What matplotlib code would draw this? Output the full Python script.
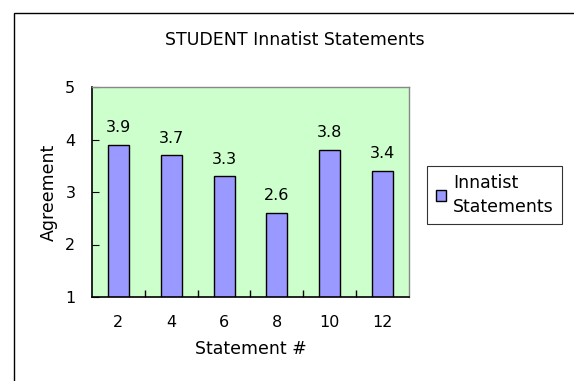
import matplotlib
matplotlib.use("Agg")
import matplotlib.pyplot as plt
from matplotlib.patches import Rectangle

categories = ["2", "4", "6", "8", "10", "12"]
values = [3.9, 3.7, 3.3, 2.6, 3.8, 3.4]
yticks = [1, 2, 3, 4, 5]

W, H = 574, 381
fig = plt.figure(figsize=(W/100, H/100), dpi=100)
plt.rcParams['font.family'] = ['DejaVu Sans']

# outer border
fig.patches.append(Rectangle((14/W, -0.1), 2, 1 - 13/H + 0.1, transform=fig.transFigure,
                             fill=False, edgecolor='black', linewidth=1.0))

left, right, top, bottom = 92, 409, 87, 297
ax = fig.add_axes([left/W, 1-bottom/H, (right-left)/W, (bottom-top)/H])
ax.set_facecolor('#CCFFCC')
x = list(range(len(categories)))
bars = ax.bar(x, values, width=0.4, bottom=0, color='#9999FF', edgecolor='black',
              linewidth=1.0, label='Innatist\nStatements', zorder=2)
ax.set_ylim(1, 5)
ax.set_xlim(-0.5, len(categories)-0.5)
ax.set_yticks(yticks)
ax.set_xticks(x)
ax.set_xticklabels(categories)
ax.set_xticks([i + 0.5 for i in x[:-1]], minor=True)
ax.tick_params(axis='x', which='major', length=0, pad=13, labelsize=11.5)
ax.tick_params(axis='x', which='minor', length=5, direction='in', width=1)
ax.tick_params(axis='y', which='major', length=5, direction='in', pad=12, labelsize=11.5)
for s in ['left', 'bottom']:
    ax.spines[s].set_color('black')
    ax.spines[s].set_linewidth(1.2)
for s in ['top', 'right']:
    ax.spines[s].set_color('#888888')
    ax.spines[s].set_linewidth(1.0)

for xi, v in zip(x, values):
    ax.annotate(f"{v}", (xi, v), xytext=(0, 7), textcoords='offset points',
                ha='center', va='bottom', fontsize=11.5)

ax.set_xlabel('Statement #', fontsize=12.5, labelpad=7)
ax.set_ylabel('Agreement', fontsize=12.5, labelpad=5)
fig.text(295/W, 1-40/H, 'STUDENT Innatist Statements', ha='center', va='center', fontsize=12.5)

leg = fig.legend(loc='center left', bbox_to_anchor=(427/W, 1-195/H), frameon=True,
                 fancybox=False, edgecolor='black', fontsize=12.5, handlelength=0.6,
                 handleheight=0.6, handletextpad=0.4, borderpad=0.5, borderaxespad=0)
leg.get_frame().set_linewidth(0.8)
for t in leg.get_texts():
    t.set_linespacing(1.4)

fig.savefig('out.png', dpi=100)
